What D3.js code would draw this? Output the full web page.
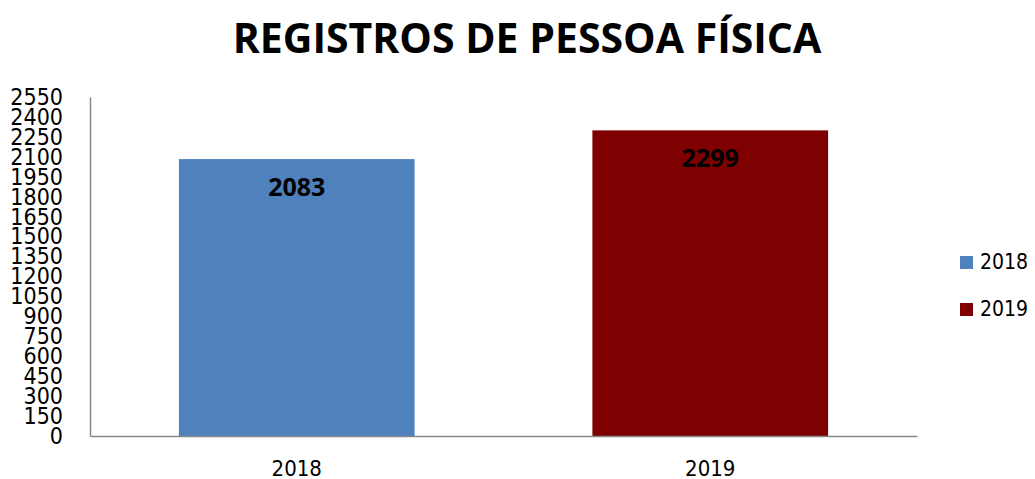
<!DOCTYPE html>
<html>
<head>
<meta charset="utf-8">
<script src="https://cdn.jsdelivr.net/npm/d3@7"></script>
<style>
  body { margin: 0; background: #fff; }
  svg { display: block; }
</style>
</head>
<body>
<div id="chart"></div>
<script>
// data
let categories = ["2018", "2019"];
let values = [2083, 2299];
let colors = ["#4f81bd", "#7f0000"];
let yTicks = d3.range(0, 2551, 150);

let w = 1035, h = 479;
let margin = { left: 90, right: 118, top: 97, bottom: 43 };
let font = "'Liberation Sans Narrow', 'DejaVu Sans Condensed', sans-serif";

let svg = d3.select("#chart").append("svg")
  .attr("width", w)
  .attr("height", h);

// title
svg.append("text")
  .attr("x", 527)
  .attr("y", 53)
  .attr("text-anchor", "middle")
  .style("font-family", "'Open Sans', sans-serif")
  .style("font-weight", "bold")
  .style("font-size", "41px")
  .text("REGISTROS DE PESSOA FÍSICA");

let x = d3.scaleBand()
  .domain(categories)
  .range([margin.left, w - margin.right])
  .paddingInner(0.43)
  .paddingOuter(0.215);

let y = d3.scaleLinear()
  .domain([0, 2550])
  .range([h - margin.bottom, margin.top]);

// bars
svg.append("g").selectAll("rect")
  .data(values)
  .join("rect")
  .attr("x", (d, i) => x(categories[i]))
  .attr("y", d => y(d))
  .attr("width", x.bandwidth())
  .attr("height", d => y(0) - y(d))
  .attr("fill", (d, i) => colors[i]);

// value labels
svg.append("g").selectAll("text")
  .data(values)
  .join("text")
  .attr("x", (d, i) => x(categories[i]) + x.bandwidth() / 2)
  .attr("y", d => y(d) + 37)
  .attr("text-anchor", "middle")
  .style("font-family", "'Open Sans', sans-serif")
  .style("font-weight", "bold")
  .style("font-size", "25px")
  .style("fill", "#000")
  .text(d => d);

// y axis
let yAxis = svg.append("g")
  .attr("transform", "translate(" + margin.left + ",0)")
  .call(d3.axisLeft(y).tickValues(yTicks).tickSize(0).tickPadding(27).tickFormat(d3.format("d")));
yAxis.select(".domain").attr("stroke", "#888").attr("stroke-width", 1.5);
yAxis.selectAll("text")
  .style("font-family", font)
  .style("font-size", "23px")
  .style("fill", "#000");

// x axis
let full = d3.scaleBand().domain(categories).range([margin.left, w - margin.right]);
let xAxis = svg.append("g")
  .attr("transform", "translate(0," + y(0) + ")")
  .call(d3.axisBottom(full).tickSize(0).tickPadding(24));
xAxis.select(".domain").attr("stroke", "#888").attr("stroke-width", 1.5);
xAxis.selectAll("text")
  .style("font-family", font)
  .style("font-size", "22px")
  .style("fill", "#000");

// legend
let legend = svg.append("g").selectAll("g")
  .data(categories)
  .join("g")
  .attr("transform", (d, i) => "translate(960," + (256 + i * 47) + ")");
legend.append("rect")
  .attr("width", 13)
  .attr("height", 13)
  .attr("fill", (d, i) => colors[i]);
legend.append("text")
  .attr("x", 20)
  .attr("y", 13)
  .style("font-family", font)
  .style("font-size", "21px")
  .style("fill", "#000")
  .text(d => d);
</script>
</body>
</html>
